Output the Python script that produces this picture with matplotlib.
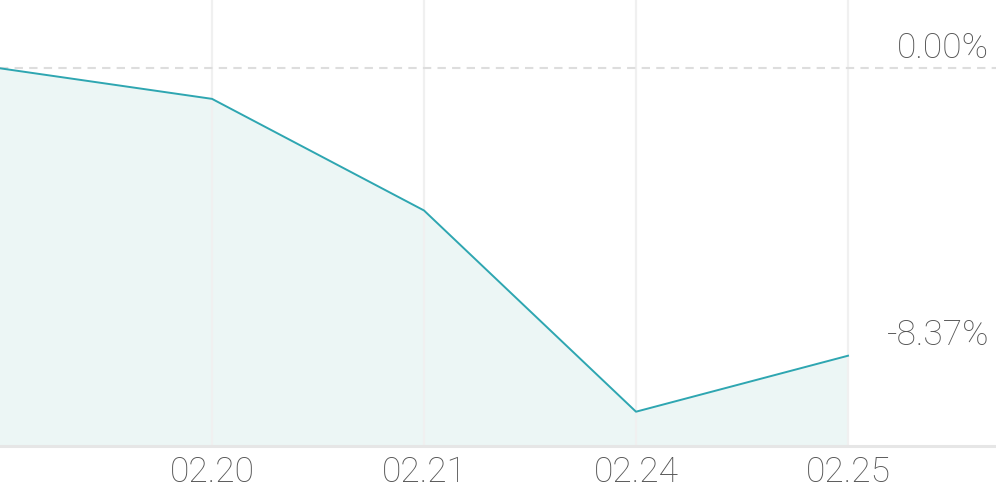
import matplotlib.pyplot as plt

# x positions: the first point is the unlabeled starting day
dates = ['', '02.20', '02.21', '02.24', '02.25']
returns = [0.0, -0.89, -4.14, -10.0, -8.37]

line_color = '#2ea6b1'
fill_color = '#ecf6f5'
text_color = '#555555'

plt.rcParams['font.family'] = ['Roboto', 'DejaVu Sans']

fig = plt.figure(figsize=(9.96, 4.9), dpi=100)
ax = fig.add_axes([0, 1 - 446 / 490, 1, 446 / 490])

xs = list(range(len(returns)))
ax.fill_between(xs, returns, -20, color=fill_color, lw=0, zorder=1)
ax.plot(xs, returns, color=line_color, lw=1.4, zorder=3)

# vertical grid at the labelled days
for x in xs[1:]:
    ax.axvline(x, color='#f0f0f0', lw=1.6, zorder=2)

ax.axhline(0, color='#dddddd', lw=1.5, ls=(0, (4, 3)), zorder=2)

ax.set_xlim(0, 996 / 212)
ax.set_ylim(-(446 - 68.3) / 34.34, 68.3 / 34.34)

for s in ['top', 'left', 'right']:
    ax.spines[s].set_visible(False)
ax.spines['bottom'].set_color('#e6e6e6')
ax.spines['bottom'].set_linewidth(2.2)
ax.set_yticks([])
ax.set_xticks(xs[1:])
ax.set_xticklabels(dates[1:], fontsize=25.5, color=text_color, fontweight='light')
ax.tick_params(axis='x', length=0, pad=6.5)

for val in [0.0, returns[-1]]:
    ax.annotate(f'{val:.2f}%', xy=(1, val), xycoords=('axes fraction', 'data'),
                xytext=(-5, 2.5), textcoords='offset points', ha='right', va='bottom',
                fontsize=25.5, color=text_color, fontweight='light')

fig.savefig('out.png', dpi=100)
